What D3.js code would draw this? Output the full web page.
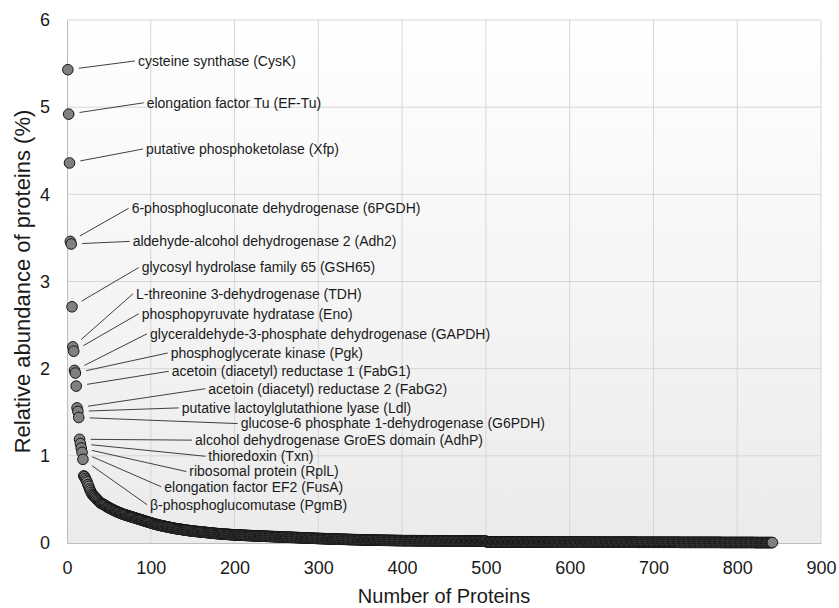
<!DOCTYPE html>
<html>
<head>
<meta charset="utf-8">
<script src="https://cdn.jsdelivr.net/npm/d3@7"></script>
<style>
body { margin: 0; background: #fff; }
svg { display: block; font-family: "Liberation Sans", Arial, sans-serif; }
</style>
</head>
<body>
<div id="chart"><svg></svg></div>
<script>
// plot area edges
var W = 839, H = 608;
var L = 67, R = 18, T = 20, B = 65;

var xTicks = [0, 100, 200, 300, 400, 500, 600, 700, 800, 900];
var yTicks = [0, 1, 2, 3, 4, 5, 6];

// the 19 labelled proteins (ranks 1-19)
var proteinNames = [
    "cysteine synthase (CysK)",
    "elongation factor Tu (EF-Tu)",
    "putative phosphoketolase (Xfp)",
    "6-phosphogluconate dehydrogenase (6PGDH)",
    "aldehyde-alcohol dehydrogenase 2 (Adh2)",
    "glycosyl hydrolase family 65 (GSH65)",
    "L-threonine 3-dehydrogenase (TDH)",
    "phosphopyruvate hydratase (Eno)",
    "glyceraldehyde-3-phosphate dehydrogenase (GAPDH)",
    "phosphoglycerate kinase (Pgk)",
    "acetoin (diacetyl) reductase 1 (FabG1)",
    "acetoin (diacetyl) reductase 2 (FabG2)",
    "putative lactoylglutathione lyase (Ldl)",
    "glucose-6 phosphate 1-dehydrogenase (G6PDH)",
    "alcohol dehydrogenase GroES domain (AdhP)",
    "thioredoxin (Txn)",
    "ribosomal protein (RplL)",
    "elongation factor EF2 (FusA)",
    "\u03b2-phosphoglucomutase (PgmB)"
];
var topValues = [5.43, 4.92, 4.36, 3.46, 3.43, 2.71, 2.25, 2.20, 1.98, 1.95,
    1.80, 1.55, 1.51, 1.44, 1.19, 1.14, 1.09, 1.04, 0.96];

// where each label sits (in chart units)
var labelX = [84.7, 95.1, 94.3, 77.2, 78.4, 89.2, 82.4, 89.2, 99.1, 123.8,
    125.0, 168.7, 136.9, 207.3, 152.8, 168.7, 146.0, 116.1, 99.1];
var labelY = [5.53, 5.05, 4.52, 3.84, 3.46, 3.16, 2.86, 2.63, 2.40, 2.18,
    1.97, 1.77, 1.55, 1.37, 1.18, 0.995, 0.82, 0.645, 0.44];

// remaining proteins, ranks 20-842
var tailValues = [
    0.77,0.76,0.74,0.72,0.70,0.67,0.65,0.62,0.60,0.58,
    0.56,0.55,0.54,0.53,0.52,0.51,0.50,0.49,0.48,0.47,
    0.46,0.455,0.45,0.445,0.44,0.435,0.43,0.42,0.415,0.41,
    0.405,0.40,0.395,0.39,0.385,0.38,0.375,0.37,0.366,0.362,
    0.358,0.354,0.35,0.346,0.342,0.338,0.334,0.33,0.327,0.324,
    0.321,0.318,0.315,0.312,0.309,0.306,0.303,0.30,0.297,0.294,
    0.291,0.288,0.285,0.282,0.279,0.276,0.273,0.27,0.267,0.264,
    0.261,0.258,0.255,0.252,0.249,0.246,0.243,0.24,0.237,0.234,
    0.231,0.228,0.225,0.222,0.22,0.217,0.215,0.212,0.21,0.207,
    0.205,0.203,0.2,0.198,0.196,0.194,0.192,0.19,0.188,0.186,
    0.184,0.182,0.18,0.178,0.176,0.174,0.172,0.17,0.169,0.167,
    0.165,0.164,0.162,0.161,0.159,0.158,0.156,0.155,0.153,0.152,
    0.15,0.149,0.147,0.146,0.145,0.143,0.142,0.141,0.14,0.138,
    0.137,0.136,0.135,0.134,0.133,0.132,0.131,0.13,0.129,0.128,
    0.127,0.126,0.125,0.124,0.123,0.122,0.121,0.12,0.119,0.118,
    0.117,0.116,0.115,0.114,0.113,0.112,0.111,0.11,0.109,0.108,
    0.107,0.107,0.106,0.105,0.104,0.104,0.103,0.102,0.101,0.101,
    0.1,0.099,0.099,0.098,0.097,0.097,0.096,0.095,0.095,0.094,
    0.094,0.093,0.093,0.092,0.092,0.091,0.091,0.090,0.090,0.089,
    0.089,0.088,0.088,0.087,0.087,0.086,0.086,0.086,0.085,0.085,
    0.084,0.084,0.083,0.083,0.083,0.082,0.082,0.081,0.081,0.080,
    0.080,0.080,0.079,0.079,0.078,0.078,0.078,0.077,0.077,0.076,
    0.076,0.076,0.075,0.075,0.074,0.074,0.074,0.073,0.073,0.072,
    0.072,0.072,0.071,0.071,0.070,0.070,0.070,0.069,0.069,0.068,
    0.068,0.068,0.067,0.067,0.066,0.066,0.066,0.065,0.065,0.064,
    0.064,0.064,0.063,0.063,0.062,0.062,0.062,0.061,0.061,0.060,
    0.060,0.060,0.059,0.059,0.058,0.058,0.058,0.057,0.057,0.056,
    0.056,0.056,0.055,0.055,0.054,0.054,0.054,0.053,0.053,0.052,
    0.052,0.052,0.051,0.051,0.051,0.050,0.050,0.050,0.049,0.049,
    0.049,0.048,0.048,0.048,0.047,0.047,0.047,0.046,0.046,0.046,
    0.045,0.045,0.045,0.044,0.044,0.044,0.043,0.043,0.043,0.042,
    0.042,0.042,0.042,0.041,0.041,0.041,0.040,0.040,0.040,0.040,
    0.039,0.039,0.039,0.039,0.038,0.038,0.038,0.038,0.037,0.037,
    0.037,0.037,0.036,0.036,0.036,0.036,0.035,0.035,0.035,0.035,
    0.034,0.034,0.034,0.034,0.034,0.033,0.033,0.033,0.033,0.033,
    0.032,0.032,0.032,0.032,0.032,0.031,0.031,0.031,0.031,0.031,
    0.031,0.030,0.030,0.030,0.030,0.030,0.030,0.029,0.029,0.029,
    0.029,0.029,0.029,0.028,0.028,0.028,0.028,0.028,0.028,0.028,
    0.027,0.027,0.027,0.027,0.027,0.027,0.027,0.027,0.027,0.027,
    0.027,0.027,0.027,0.027,0.027,0.026,0.026,0.026,0.026,0.026,
    0.026,0.026,0.026,0.026,0.026,0.026,0.026,0.026,0.026,0.026,
    0.026,0.026,0.026,0.025,0.025,0.025,0.025,0.025,0.025,0.025,
    0.025,0.025,0.025,0.025,0.025,0.025,0.025,0.025,0.025,0.025,
    0.025,0.025,0.025,0.025,0.024,0.024,0.024,0.024,0.024,0.024,
    0.024,0.024,0.024,0.024,0.024,0.024,0.024,0.024,0.024,0.024,
    0.024,0.024,0.024,0.024,0.023,0.023,0.023,0.023,0.023,0.023,
    0.023,0.023,0.023,0.023,0.023,0.023,0.023,0.023,0.023,0.023,
    0.023,0.023,0.023,0.022,0.022,0.022,0.022,0.022,0.022,0.022,
    0.022,
    0.012,0.012,0.012,0.012,0.012,0.012,0.012,0.012,0.012,0.012,
    0.012,0.012,0.012,0.012,0.012,0.012,0.012,0.012,0.012,0.012,
    0.012,0.012,0.012,0.012,0.012,0.012,0.012,0.012,0.012,0.012,
    0.012,0.012,0.012,0.012,0.012,0.012,0.012,0.012,0.012,0.012,
    0.011,0.011,0.011,0.011,0.011,0.011,0.011,0.011,0.011,0.011,
    0.011,0.011,0.011,0.011,0.011,0.011,0.011,0.011,0.011,0.011,
    0.011,0.011,0.011,0.011,0.011,0.011,0.011,0.011,0.011,0.011,
    0.011,0.011,0.011,0.011,0.011,0.011,0.011,0.011,0.011,0.011,
    0.010,0.010,0.010,0.010,0.010,0.010,0.010,0.010,0.010,0.010,
    0.010,0.010,0.010,0.010,0.010,0.010,0.010,0.010,0.010,0.010,
    0.010,0.010,0.010,0.010,0.010,0.010,0.010,0.010,0.010,0.010,
    0.010,0.010,0.010,0.010,0.010,0.010,0.010,0.010,0.010,0.010,
    0.010,0.010,0.010,0.010,0.010,0.010,0.010,0.010,0.010,0.010,
    0.009,0.009,0.009,0.009,0.009,0.009,0.009,0.009,0.009,0.009,
    0.009,0.009,0.009,0.009,0.009,0.009,0.009,0.009,0.009,0.009,
    0.009,0.009,0.009,0.009,0.009,0.009,0.009,0.009,0.009,0.009,
    0.009,0.009,0.009,0.009,0.009,0.009,0.009,0.009,0.009,0.009,
    0.009,0.009,0.009,0.009,0.009,0.009,0.009,0.009,0.009,0.009,
    0.008,0.008,0.008,0.008,0.008,0.008,0.008,0.008,0.008,0.008,
    0.008,0.008,0.008,0.008,0.008,0.008,0.008,0.008,0.008,0.008,
    0.008,0.008,0.008,0.008,0.008,0.008,0.008,0.008,0.008,0.008,
    0.008,0.008,0.008,0.008,0.008,0.008,0.008,0.008,0.008,0.008,
    0.008,0.008,0.008,0.008,0.008,0.008,0.008,0.008,0.008,0.008,
    0.007,0.007,0.007,0.007,0.007,0.007,0.007,0.007,0.007,0.007,
    0.007,0.007,0.007,0.007,0.007,0.007,0.007,0.007,0.007,0.007,
    0.007,0.007,0.007,0.007,0.007,0.007,0.007,0.007,0.007,0.007,
    0.007,0.007,0.007,0.007,0.007,0.007,0.007,0.007,0.007,0.007,
    0.007,0.007,0.007,0.007,0.007,0.007,0.007,0.007,0.007,0.007,
    0.006,0.006,0.006,0.006,0.006,0.006,0.006,0.006,0.006,0.006,
    0.006,0.006,0.006,0.006,0.006,0.006,0.006,0.006,0.006,0.006,
    0.006,0.006,0.006,0.006,0.006,0.006,0.006,0.006,0.006,0.006,
    0.006,0.006,0.006,0.006,0.006,0.006,0.006,0.006,0.006,0.006,
    0.005,0.005,0.005,0.005,0.005,0.005,0.005,0.005,0.005,0.005,
    0.005,0.005,0.005,0.005,0.005,0.005,0.005,0.005,0.005,0.005,
    0.005,0.005
];

var abundance = topValues.concat(tailValues);
var points = abundance.map(function(v, i) { return { rank: i + 1, value: v }; });

var x = d3.scaleLinear().domain([0, 900]).range([L, W - R]);
var y = d3.scaleLinear().domain([0, 6]).range([H - B, T]);

var svg = d3.select("#chart svg")
    .attr("width", W)
    .attr("height", H);

var grad = svg.append("defs").append("linearGradient")
    .attr("id", "bg")
    .attr("x1", 0).attr("y1", 0).attr("x2", 0).attr("y2", 1);
grad.append("stop").attr("offset", "0%").attr("stop-color", "#ffffff");
grad.append("stop").attr("offset", "100%").attr("stop-color", "#ebebeb");

svg.append("rect")
    .attr("x", L).attr("y", T)
    .attr("width", W - L - R).attr("height", H - T - B)
    .attr("fill", "url(#bg)");

// gridlines
var gGrid = svg.append("g").attr("class", "grid");
gGrid.selectAll("line.v").data(xTicks.slice(1))
    .enter().append("line")
    .attr("x1", function(d) { return x(d); })
    .attr("x2", function(d) { return x(d); })
    .attr("y1", y(0)).attr("y2", y(6))
    .attr("stroke", "#d6d6d6");
gGrid.selectAll("line.h").data(yTicks.slice(1))
    .enter().append("line")
    .attr("y1", function(d) { return y(d); })
    .attr("y2", function(d) { return y(d); })
    .attr("x1", x(0)).attr("x2", x(900))
    .attr("stroke", "#d6d6d6");

// axes
var gxAxis = svg.append("g")
    .attr("transform", "translate(0," + y(0) + ")")
    .call(d3.axisBottom(x).tickValues(xTicks).tickSize(0).tickPadding(18));
gxAxis.select(".domain").attr("stroke", "#bdbdbd");
gxAxis.selectAll("text").attr("font-size", 18).attr("fill", "#1a1a1a")
    .attr("font-family", "Liberation Sans, Arial, sans-serif");

var gyAxis = svg.append("g")
    .attr("transform", "translate(" + x(0) + ",0)")
    .call(d3.axisLeft(y).tickValues(yTicks).tickFormat(d3.format("d"))
        .tickSize(0).tickPadding(17));
gyAxis.select(".domain").attr("stroke", "#bdbdbd");
gyAxis.selectAll("text").attr("font-size", 18).attr("fill", "#1a1a1a")
    .attr("font-family", "Liberation Sans, Arial, sans-serif");

svg.append("text")
    .attr("x", (x(0) + x(900)) / 2)
    .attr("y", 603)
    .attr("text-anchor", "middle")
    .attr("font-size", 20)
    .attr("fill", "#1a1a1a")
    .text("Number of Proteins");

svg.append("text")
    .attr("transform", "translate(30," + ((y(0) + y(6)) / 2) + ") rotate(-90)")
    .attr("text-anchor", "middle")
    .attr("font-size", 22)
    .attr("fill", "#1a1a1a")
    .text("Relative abundance of proteins (%)");

// leader lines
var gLeader = svg.append("g").attr("class", "leaders");
proteinNames.forEach(function(name, i) {
    var px = x(i + 1), py = y(topValues[i]);
    var ex = x(labelX[i]) - 3, ey = y(labelY[i]);
    var dx = ex - px, dy = ey - py;
    var len = Math.sqrt(dx * dx + dy * dy);
    gLeader.append("line")
        .attr("x1", px + dx / len * 11)
        .attr("y1", py + dy / len * 11)
        .attr("x2", ex).attr("y2", ey)
        .attr("stroke", "#404040")
        .attr("stroke-width", 1);
});

// points
svg.append("g").attr("class", "data")
    .selectAll("circle").data(points)
    .enter().append("circle")
    .attr("cx", function(d) { return x(d.rank); })
    .attr("cy", function(d) { return y(d.value); })
    .attr("r", 5.3)
    .attr("fill", "#808080")
    .attr("stroke", "#141414")
    .attr("stroke-width", 1);

// labels
svg.append("g").attr("class", "labels")
    .selectAll("text").data(proteinNames)
    .enter().append("text")
    .attr("x", function(d, i) { return x(labelX[i]); })
    .attr("y", function(d, i) { return y(labelY[i]); })
    .attr("dy", "0.35em")
    .attr("font-size", 14)
    .attr("fill", "#1a1a1a")
    .text(function(d) { return d; });
</script>
</body>
</html>
